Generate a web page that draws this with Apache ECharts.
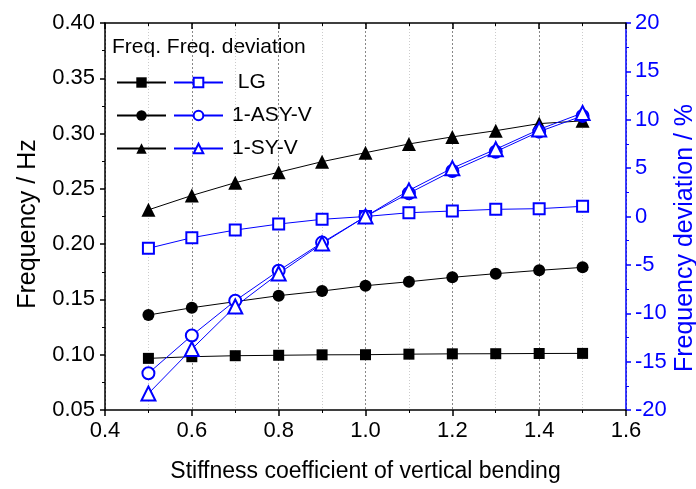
<!DOCTYPE html>
<html><head><meta charset="utf-8">
<script src="https://cdn.jsdelivr.net/npm/echarts@6/dist/echarts.min.js"></script>
<style>html,body{margin:0;padding:0;background:#fff}#c{width:696px;height:489px}</style>
</head><body><div id="c"></div>
<script>
const stiffness = [0.5,0.6,0.7,0.8,0.9,1.0,1.1,1.2,1.3,1.4,1.5];
const lgFreq  = [0.0967,0.0982,0.0991,0.0995,0.0999,0.1000,0.1005,0.1008,0.1009,0.1011,0.1012];
const asyFreq = [0.1359,0.1425,0.1480,0.1534,0.1576,0.1624,0.1660,0.1700,0.1733,0.1763,0.1790];
const syFreq  = [0.2310,0.2440,0.2556,0.2650,0.2746,0.2827,0.2906,0.2970,0.3026,0.3090,0.3115];
const lgDev   = [-3.29,-2.19,-1.40,-0.78,-0.29,0,0.39,0.57,0.74,0.81,1.05];
const asyDev  = [-16.2,-12.3,-8.7,-5.6,-2.7,0,2.4,4.7,6.7,8.77,10.4];
const syDev   = [-18.3,-13.7,-9.3,-5.9,-2.8,0,2.7,5.0,6.95,9.0,10.7];
const legendTitle = 'Freq. Freq. deviation';
const xTitle = 'Stiffness coefficient of vertical bending';
const yLeftTitle = 'Frequency / Hz';
const yRightTitle = 'Frequency deviation / %';

const FONT = 'Liberation Sans, Arial, sans-serif';
const BLUE = '#0000ff';
const pairs = v => stiffness.map((x,i)=>[x,v[i]]);

function blackSeries(name, data, symbol, size){
  return {name, type:'line', xAxisIndex:0, yAxisIndex:0, data:pairs(data), symbol, symbolSize:size,
    lineStyle:{color:'#000',width:1}, itemStyle:{color:'#000'}, z:2};
}
function blueSeries(name, data, symbol, size){
  return {name, type:'line', xAxisIndex:0, yAxisIndex:1, data:pairs(data), symbol, symbolSize:size,
    lineStyle:{color:BLUE,width:1}, itemStyle:{color:BLUE, borderColor:BLUE, borderWidth:1.2}, z:3};
}

const chart = echarts.init(document.getElementById('c'), null, {renderer:'canvas'});
chart.setOption({
  animation:false,
  textStyle:{fontFamily:FONT},
  grid:{left:105,right:70,top:23,bottom:79,containLabel:false},
  xAxis:[{
    type:'value', min:0.4, max:1.6, interval:0.2, position:'bottom',
    name:xTitle, nameLocation:'middle', nameGap:50,
    nameTextStyle:{fontSize:23,color:'#000',fontFamily:FONT},
    axisLine:{onZero:false,lineStyle:{color:'#000',width:1.5}},
    axisTick:{show:true,length:6,lineStyle:{color:'#000',width:1.5}},
    minorTick:{show:true,splitNumber:2,length:3,lineStyle:{color:'#000'}},
    axisLabel:{fontSize:22,color:'#000',margin:10,formatter:v=>v.toFixed(1),fontFamily:FONT},
    splitLine:{show:true,lineStyle:{color:'#888',type:[2,2],width:1}},
    minorSplitLine:{show:true,lineStyle:{color:'#ccc',type:[1,2],width:1}}
  },{
    type:'value', min:0.4, max:1.6, interval:0.2, position:'top',
    axisLine:{onZero:false,lineStyle:{color:'#000',width:1.5}},
    axisTick:{show:true,inside:true,length:6,lineStyle:{color:'#000',width:1.5}},
    minorTick:{show:true,splitNumber:2,length:3,lineStyle:{color:'#000'}},
    axisLabel:{show:false}, splitLine:{show:false}
  }],
  yAxis:[{
    type:'value', min:0.05, max:0.40, interval:0.05, position:'left',
    axisLine:{show:true,onZero:false,lineStyle:{color:'#000',width:1.5}},
    axisTick:{show:true,length:5,lineStyle:{color:'#000',width:1.5}},
    minorTick:{show:true,splitNumber:2,length:3,lineStyle:{color:'#000'}},
    axisLabel:{fontSize:22,color:'#000',margin:10,formatter:v=>v.toFixed(2),fontFamily:FONT},
    splitLine:{show:false}
  },{
    type:'value', min:-20, max:20, interval:5, position:'right',
    axisLine:{show:true,onZero:false,lineStyle:{color:BLUE,width:1.5}},
    axisTick:{show:true,length:5,lineStyle:{color:BLUE,width:1.5}},
    minorTick:{show:true,splitNumber:2,length:3,lineStyle:{color:BLUE}},
    axisLabel:{fontSize:22,color:BLUE,margin:9,fontFamily:FONT},
    splitLine:{show:false}
  }],
  legend:[{
    orient:'vertical', left:111, top:67, itemWidth:49, itemHeight:13, itemGap:12,
    data:['LG freq','1-ASY-V freq','1-SY-V freq'],
    formatter:()=>' ', textStyle:{fontSize:21,lineHeight:14,fontFamily:FONT}
  },{
    orient:'vertical', left:168, top:67, itemWidth:49, itemHeight:12, itemGap:12,
    data:['LG','1-ASY-V','1-SY-V'],
    formatter:n=> n==='LG' ? ' LG' : n,
    textStyle:{fontSize:21,lineHeight:14,color:'#000',fontFamily:FONT,padding:[0,0,0,4]}
  }],
  graphic:[{
    type:'text', left:112, top:37,
    style:{text:legendTitle, font:'21px '+FONT, fill:'#000'}
  },{
    type:'text', x:28, y:224, rotation:Math.PI/2,
    style:{text:yLeftTitle, font:'25px '+FONT, fill:'#000', align:'center', verticalAlign:'middle'}
  },{
    type:'text', x:685, y:238, rotation:Math.PI/2,
    style:{text:yRightTitle, font:'25px '+FONT, fill:BLUE, align:'center', verticalAlign:'middle'}
  }],
  series:[
    blackSeries('LG freq', lgFreq, 'rect', 11),
    blackSeries('1-ASY-V freq', asyFreq, 'circle', 12),
    blackSeries('1-SY-V freq', syFreq, 'triangle', 14),
    blueSeries('LG', lgDev, 'emptyRect', 11),
    blueSeries('1-ASY-V', asyDev, 'emptyCircle', 12),
    blueSeries('1-SY-V', syDev, 'emptyTriangle', 14)
  ]
});
</script></body></html>
